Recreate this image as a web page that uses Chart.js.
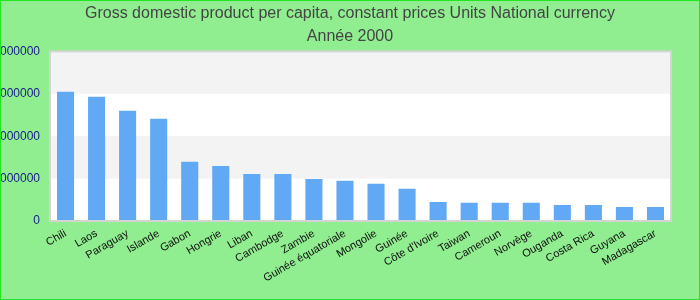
<!DOCTYPE html>
<html>
<head>
<meta charset="utf-8">
<script src="https://cdn.jsdelivr.net/npm/chart.js@4/dist/chart.umd.min.js"></script>
<style>
html,body{margin:0;padding:0;background:#90EE90;}
#wrap{width:700px;height:300px;position:relative;}
</style>
</head>
<body>
<div id="wrap"><canvas id="c" width="700" height="300"></canvas></div>
<script>
const categories = ["Chili","Laos","Paraguay","Islande","Gabon","Hongrie","Liban","Cambodge","Zambie","Guinée équatoriale","Mongolie","Guinée","Côte d'Ivoire","Taiwan","Cameroun","Norvège","Ouganda","Costa Rica","Guyana","Madagascar"];
const gdpValues = [3050000,2930000,2600000,2410000,1400000,1300000,1110000,1110000,990000,950000,880000,760000,450000,430000,430000,430000,380000,380000,330000,330000];
const yTicks = [0,1000000,2000000,3000000,4000000];
const titleLines = ["Gross domestic product per capita, constant prices Units National currency","Année 2000"];

const decor = {
  id:'decor',
  beforeDraw(chart){
    const ctx = chart.ctx;
    ctx.save();
    ctx.fillStyle = '#90EE90';
    ctx.fillRect(0,0,chart.width,chart.height);
    ctx.restore();
  },
  beforeDatasetsDraw(chart){
    const ctx = chart.ctx, a = chart.chartArea, y = chart.scales.y;
    ctx.save();
    ctx.fillStyle = '#ffffff';
    ctx.fillRect(a.left,a.top,a.right-a.left,a.bottom-a.top);
    ctx.fillStyle = '#f3f3f3';
    for (let i=1;i<yTicks.length-1;i+=2){
      const y0 = y.getPixelForValue(yTicks[i]);
      const y1 = y.getPixelForValue(yTicks[i+1]);
      ctx.fillRect(a.left,y1,a.right-a.left,y0-y1);
    }
    ctx.restore();
  },
  afterDatasetsDraw(chart){
    const ctx = chart.ctx, a = chart.chartArea;
    ctx.save();
    ctx.strokeStyle = '#d4d4d4';
    ctx.lineWidth = 2;
    ctx.strokeRect(a.left,a.top,a.right-a.left,a.bottom-a.top);
    ctx.restore();
  },
  afterDraw(chart){
    const ctx = chart.ctx;
    ctx.save();
    ctx.strokeStyle = '#22e622';
    ctx.lineWidth = 2;
    ctx.strokeRect(0,0,chart.width,chart.height);
    ctx.restore();
  }
};

new Chart(document.getElementById('c'), {
  type:'bar',
  data:{
    labels: categories,
    datasets:[{
      data: gdpValues,
      backgroundColor:'#62a9f5',
      borderWidth:0,
      barPercentage:0.55,
      categoryPercentage:1.0
    }]
  },
  options:{
    responsive:false,
    animation:false,
    devicePixelRatio:1,
    layout:{padding:{left:0,right:0,top:0,bottom:0}},
    plugins:{
      legend:{display:false},
      tooltip:{enabled:false},
      title:{
        display:true,
        text:titleLines,
        color:'#444444',
        font:{family:"'Liberation Sans', Arial, sans-serif",size:16,weight:'normal',lineHeight:1.45},
        padding:{top:2,bottom:3}
      }
    },
    scales:{
      x:{
        grid:{display:false,drawTicks:false},
        border:{display:false},
        ticks:{
          autoSkip:false,
          maxRotation:30,
          minRotation:30,
          color:'#111111',
          padding:6,
          font:{family:"'Liberation Sans', Arial, sans-serif",size:11}
        },
        afterFit(scale){ scale.height = 79; }
      },
      y:{
        min:0,max:4000000,
        grid:{display:false,drawTicks:false},
        border:{display:false},
        afterBuildTicks(scale){ scale.ticks = yTicks.map(v=>({value:v})); },
        ticks:{
          color:'#1a1a8c',
          padding:10,
          font:{family:"'Liberation Sans', Arial, sans-serif",size:12},
          callback:(v)=>String(v)
        },
        afterFit(scale){ scale.width = 50; }
      },
      yRight:{
        type:'linear',
        position:'right',
        display:true,
        grid:{display:false,drawTicks:false},
        border:{display:false},
        ticks:{display:false},
        afterFit(scale){ scale.width = 29; }
      }
    }
  },
  plugins:[decor]
});
</script>
</body>
</html>
